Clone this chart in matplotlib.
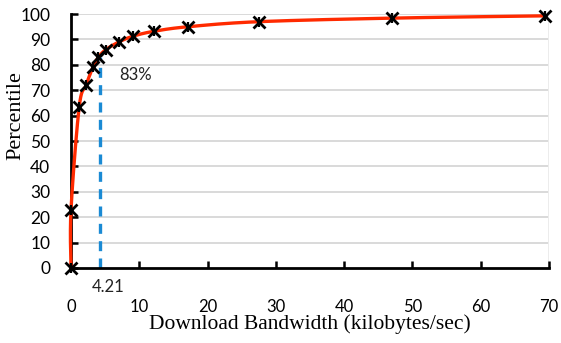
import numpy as np
import matplotlib
matplotlib.use("Agg")
import matplotlib.pyplot as plt

# === Data ===
bandwidth = [0.0, 0.0, 1.2, 2.2, 3.2, 4.0, 5.1, 7.0, 9.1, 12.1, 17.1, 27.5, 47.0, 69.4]
percentile = [0.0, 23.0, 63.5, 72.0, 79.0, 83.0, 86.0, 89.0, 91.3, 93.2, 95.0, 97.0, 98.4, 99.3]
median_x = 4.21
median_y = 83
x_ticks = [0, 10, 20, 30, 40, 50, 60, 70]
y_ticks = list(range(0, 101, 10))

SANS = ["Lato", "DejaVu Sans"]
NARROW = ["Liberation Sans Narrow", "Lato", "DejaVu Sans"]
SERIF = ["Liberation Serif", "DejaVu Serif"]


def smooth(xs, ys, n=30):
    # Catmull-Rom through the points, only for drawing the line
    p = np.column_stack([xs, ys]).astype(float)
    p = np.vstack([p[0], p, p[-1]])
    out = []
    t = np.linspace(0, 1, n)[:, None]
    for i in range(1, len(p) - 2):
        p0, p1, p2, p3 = p[i - 1], p[i], p[i + 1], p[i + 2]
        seg = 0.5 * ((2 * p1) + (-p0 + p2) * t + (2 * p0 - 5 * p1 + 4 * p2 - p3) * t**2
                     + (-p0 + 3 * p1 - 3 * p2 + p3) * t**3)
        out.append(seg)
    out = np.vstack(out)
    return out[:, 0], out[:, 1]


fig = plt.figure(figsize=(5.61, 3.43), dpi=100)
ax = fig.add_axes([0.1266, 0.2187, 0.8520, 0.7403])

for y in y_ticks[1:]:
    ax.axhline(y, color="#d9d9d9", lw=1.4, zorder=0)
ax.axvline(70, color="#ececec", lw=1.4, zorder=0)

sx, sy = smooth(bandwidth, percentile)
ax.plot(sx, sy, color="#ff2a00", lw=2.4, zorder=3, clip_on=False)
ax.plot(bandwidth, percentile, ls="none", marker="x", ms=8, mew=2.0, color="black", zorder=4, clip_on=False)
ax.plot(bandwidth, percentile, ls="none", marker="|", ms=7, mew=1.6, color="black", zorder=4, clip_on=False)

ax.plot([median_x, median_x], [0, median_y], color="#1a8ad4", lw=2.4, ls=(0, (3, 2.2)), zorder=1)
ax.text(7.1, 76, f"{median_y}%", fontsize=12, family=SANS, color="#222222", ha="left", va="center")
ax.text(median_x + 1.2, -7.5, f"{median_x:.2f}", fontsize=12, family=SANS, color="#222222",
        ha="center", va="center", clip_on=False)

ax.set_xlim(0, 70)
ax.set_ylim(0, 100)
ax.set_xticks(x_ticks)
ax.set_yticks(y_ticks)
ax.set_xticklabels([str(v) for v in x_ticks], family=SANS, fontsize=12)
ax.set_yticklabels([str(v) for v in y_ticks], family=NARROW, fontsize=12.5)
ax.tick_params(axis="both", direction="in", length=5, width=1.8, color="black")
ax.tick_params(axis="x", pad=22)
ax.tick_params(axis="y", pad=15)

for s in ["top", "right"]:
    ax.spines[s].set_visible(False)
for s in ["left", "bottom"]:
    ax.spines[s].set_linewidth(2.0)

ax.set_xlabel("Download Bandwidth (kilobytes/sec)", family=SERIF, fontsize=15.5, labelpad=0)
ax.set_ylabel("Percentile", family=SERIF, fontsize=16)
ax.yaxis.set_label_coords(-0.095, 0.60)

fig.savefig("out.png", dpi=100)
